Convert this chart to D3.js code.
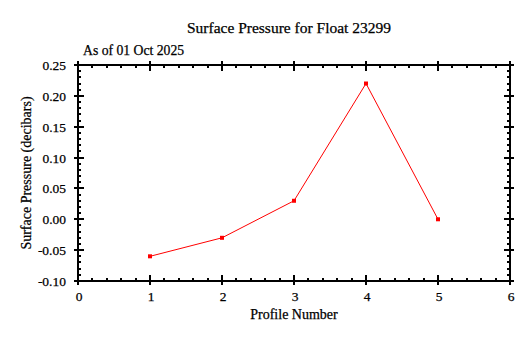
<!DOCTYPE html>
<html><head><meta charset="utf-8">
<script src="https://cdn.jsdelivr.net/npm/d3@7"></script>
<style>body{margin:0;background:#fff}svg{display:block}text{font-family:"Liberation Serif","Times New Roman",serif;fill:#000;stroke:#000;stroke-width:0.25px}</style>
</head><body>
<script>
const profiles = [1, 2, 3, 4, 5];
const pressure = [-0.06, -0.03, 0.03, 0.22, 0.00];
const xTicks = [0, 1, 2, 3, 4, 5, 6];
const yTicks = [-0.10, -0.05, 0.00, 0.05, 0.10, 0.15, 0.20, 0.25];
const titleText = "Surface Pressure for Float 23299";
const subtitleText = "As of 01 Oct 2025";
const xLabel = "Profile Number";
const yLabel = "Surface Pressure (decibars)";

const W = 531, H = 338;
const m = {l: 78, r: 21, t: 65, b: 57};
const svg = d3.select("body").append("svg").attr("width", W).attr("height", H);
const x = d3.scaleLinear().domain([0, 6]).range([m.l, W - m.r]);
const y = d3.scaleLinear().domain([-0.10, 0.25]).range([H - m.b, m.t]);

const g = svg.append("g").attr("shape-rendering", "crispEdges");
const xMinor = d3.range(0, 6.001, 0.2).filter(v => Math.abs(v - Math.round(v)) > 1e-6);
const yMinor = d3.range(-0.10, 0.2501, 0.01).filter(v => Math.abs(v*20 - Math.round(v*20)) > 1e-6);

function tick(x1, y1, x2, y2, w) {
  g.append("line").attr("x1", x1).attr("y1", y1).attr("x2", x2).attr("y2", y2)
    .attr("stroke", "#000").attr("stroke-width", w || 1);
}
const L = x(0), R = x(6), T = y(0.25), B = y(-0.10);
xTicks.forEach(v => { tick(x(v), B + 4, x(v), B - 6, 2); tick(x(v), T - 4, x(v), T + 6, 2); });
xMinor.forEach(v => { tick(x(v), B, x(v), B - 3, 2); tick(x(v), T, x(v), T + 3, 2); });
yTicks.forEach(v => { tick(L - 4, y(v), L + 6, y(v), 2); tick(R + 4, y(v), R - 6, y(v), 2); });
yMinor.forEach(v => { tick(L, y(v), L + 3, y(v), 2); tick(R, y(v), R - 3, y(v), 2); });

g.append("rect").attr("x", L).attr("y", T).attr("width", R - L).attr("height", B - T)
  .attr("fill", "none").attr("stroke", "#000").attr("stroke-width", 2);

svg.append("g").selectAll("text").data(xTicks).join("text")
  .attr("x", d => x(d) + 1).attr("y", B + 20).attr("text-anchor", "middle")
  .attr("font-size", 13.5).text(d => d);
svg.append("g").selectAll("text").data(yTicks).join("text")
  .attr("x", L - 12).attr("y", d => y(d) + 5).attr("text-anchor", "end")
  .attr("font-size", 13.5).text(d => d3.format(".2f")(d).replace("−", "-"));

svg.append("text").attr("x", 289).attr("y", 33).attr("text-anchor", "middle").attr("font-size", 15.5).text(titleText);
svg.append("text").attr("x", 83).attr("y", 55).attr("font-size", 13.7).text(subtitleText);
svg.append("text").attr("x", 294).attr("y", 319).attr("text-anchor", "middle").attr("font-size", 14).text(xLabel);
svg.append("text").attr("transform", `translate(31,${(T + B) / 2}) rotate(-90)`).attr("text-anchor", "middle").attr("font-size", 14).text(yLabel);

const pts = profiles.map((p, i) => [p, pressure[i]]);
svg.append("path").datum(pts)
  .attr("d", d3.line().x(d => x(d[0])).y(d => y(d[1])))
  .attr("fill", "none").attr("stroke", "#ff0000").attr("stroke-width", 1);
svg.append("g").selectAll("rect").data(pts).join("rect")
  .attr("x", d => x(d[0]) - 2).attr("y", d => y(d[1]) - 2).attr("width", 4).attr("height", 4)
  .attr("fill", "#ff0000");
</script>
</body></html>
